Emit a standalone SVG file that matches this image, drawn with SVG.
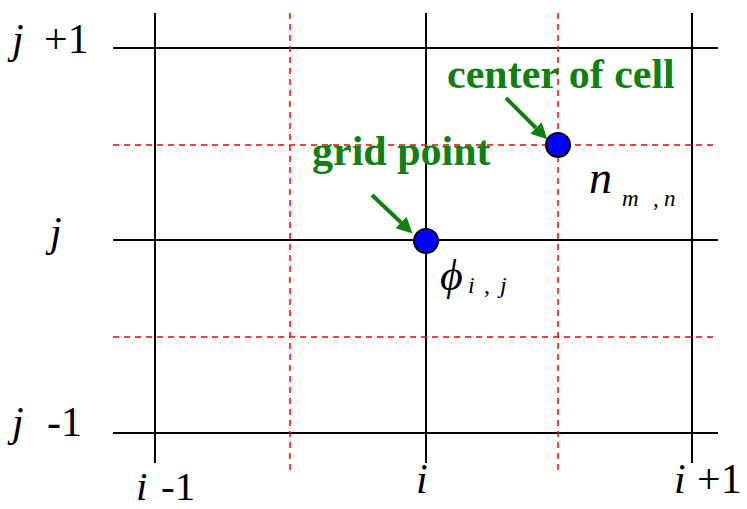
<svg xmlns="http://www.w3.org/2000/svg" width="747" height="509" viewBox="0 0 747 509">
<style>
.g{stroke:#000;stroke-width:2;fill:none}
.r{stroke:#f00;stroke-width:1.5;stroke-dasharray:6,5;fill:none}
.a{stroke:#108010;stroke-width:4;fill:none}
.pt{fill:#00f;stroke:#000;stroke-width:2}
</style>
<defs>
<marker id="ah" viewBox="0 0 10 10" refX="0" refY="5" markerWidth="4" markerHeight="4.5" orient="auto" markerUnits="strokeWidth">
<path d="M0,0 L10,5 L0,10 z" fill="#108010"/>
</marker>
</defs>
<g id="grid">
<line class="g" x1="113" y1="48" x2="718" y2="48"/>
<line class="g" x1="113" y1="240" x2="718" y2="240"/>
<line class="g" x1="113" y1="433" x2="718" y2="433"/>
<line class="g" x1="155" y1="13" x2="155" y2="463"/>
<line class="g" x1="426" y1="13" x2="426" y2="463"/>
<line class="g" x1="692" y1="13" x2="692" y2="463"/>
<line class="r" x1="290" y1="13" x2="290" y2="470"/>
<line class="r" x1="558" y1="13" x2="558" y2="470"/>
<line class="r" x1="113" y1="145" x2="718" y2="145"/>
<line class="r" x1="113" y1="337" x2="718" y2="337"/>
</g>
<g id="connectors">
<line class="a" x1="506" y1="98" x2="536" y2="128" marker-end="url(#ah)"/>
<line class="a" x1="372" y1="195" x2="401" y2="222.5" marker-end="url(#ah)"/>
</g>
<g id="cell-center">
<circle class="pt" cx="558" cy="145" r="12"/>
<text x="447" y="88" font-family="Liberation Serif, serif" font-weight="bold" font-size="42" fill="#108010">center of cell</text>
<text x="589" y="193" font-family="Liberation Serif, serif" font-style="italic" font-size="46">n</text>
<text x="622" y="206" font-family="Liberation Serif, serif" font-style="italic" font-size="23">m</text>
<text x="653" y="206" font-family="Liberation Serif, serif" font-size="23">,</text>
<text x="664" y="206" font-family="Liberation Serif, serif" font-style="italic" font-size="23">n</text>
</g>
<g id="grid-point">
<circle class="pt" cx="426" cy="241" r="12"/>
<text x="312" y="165" font-family="Liberation Serif, serif" font-weight="bold" font-size="42" fill="#108010">grid point</text>
<text x="440" y="290" font-family="Liberation Serif, serif" font-style="italic" font-size="44">ϕ</text>
<text x="468" y="293" font-family="Liberation Serif, serif" font-style="italic" font-size="24">i</text>
<text x="484" y="293" font-family="Liberation Serif, serif" font-size="24">,</text>
<text x="500" y="293" font-family="Liberation Serif, serif" font-style="italic" font-size="24">j</text>
</g>
<g id="axis-labels">
<text x="12" y="53" font-family="Liberation Serif, serif" font-size="42" font-style="italic">j</text>
<text x="44" y="53" font-family="Liberation Serif, serif" font-size="42">+1</text>
<text x="50" y="246" font-family="Liberation Serif, serif" font-size="42" font-style="italic">j</text>
<text x="12" y="436" font-family="Liberation Serif, serif" font-size="42" font-style="italic">j</text>
<text x="47" y="436" font-family="Liberation Serif, serif" font-size="42">-1</text>
<text x="136" y="500" font-family="Liberation Serif, serif" font-size="41" font-style="italic">i</text>
<text x="161" y="500" font-family="Liberation Serif, serif" font-size="41">-1</text>
<text x="416" y="493" font-family="Liberation Serif, serif" font-size="42" font-style="italic">i</text>
<text x="674" y="493" font-family="Liberation Serif, serif" font-size="42" font-style="italic">i</text>
<text x="697" y="493" font-family="Liberation Serif, serif" font-size="42">+1</text>
</g>
</svg>
